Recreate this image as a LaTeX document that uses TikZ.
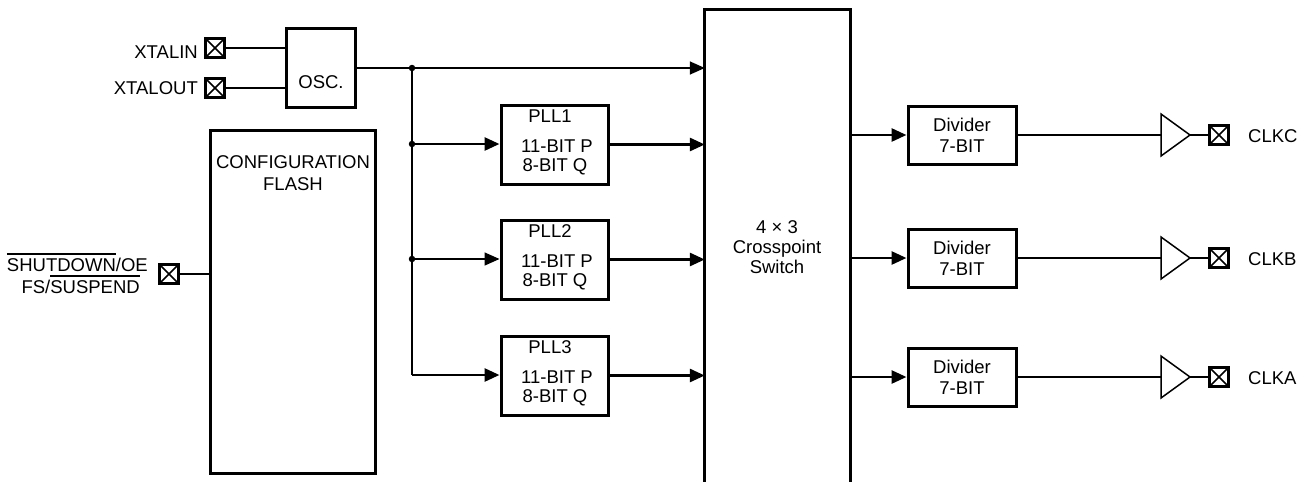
\documentclass[tikz,border=0pt]{standalone}
\usepackage{fontspec}
\setmainfont{Liberation Sans}
\usetikzlibrary{arrows.meta}
\newcommand\myovl[1]{\leavevmode\vbox{\hrule height 1.8pt\kern 3pt\hbox{#1}}}
\begin{document}
\begin{tikzpicture}[x=1pt,y=-1pt,
  font=\fontsize{18.5}{21}\selectfont,
  wire/.style={line width=2.8pt},
  thinwire/.style={line width=1.5pt},
  arr/.style={wire,-{Triangle[length=15pt,width=13pt]}},
  thinarr/.style={thinwire,-{Triangle[length=15pt,width=13pt]}},
  box/.style={draw,line width=3pt,inner sep=0,minimum width=#1},
  pin/.style={draw,line width=3.2pt,inner sep=0,minimum size=18.5pt,
    path picture={\draw[line width=1.6pt] (path picture bounding box.north west)--(path picture bounding box.south east)
      (path picture bounding box.north east)--(path picture bounding box.south west);}},
  txt/.style={inner sep=0,anchor=base},
  rtxt/.style={inner sep=0,anchor=base east},
  ltxt/.style={inner sep=0,anchor=base west},
  jdot/.style={circle,fill,inner sep=0,minimum size=6.5pt},
  buf/.style={line width=1.5pt},
]
\useasboundingbox (0,0) rectangle (1307,482);

% crystal pins and oscillator
\node[pin] (xin) at (215,48) {};
\node[pin] (xout) at (215,88) {};
\node[rtxt] (xinl) at (198,58) {XTALIN};
\node[rtxt] (xoutl) at (198,94) {XTALOUT};
\node[box=69pt,minimum height=79pt] (osc) at (320.5,67.5) {};
\node[txt] (osct) at (321,88) {OSC.};
\draw[wire] (xin.east) -- (osc.west |- xin);
\draw[wire] (xout.east) -- (osc.west |- xout);

% crosspoint switch (open at the bottom)
\node[inner sep=0,minimum width=145pt,minimum height=474pt] (xp) at (777.5,247) {};
\draw[line width=3pt] (xp.south west) -- (xp.north west) -- (xp.north east) -- (xp.south east);
\node[txt] (xp1) at (777,233) {4 × 3};
\node[txt] (xp2) at (777,253) {Crosspoint};
\node[txt] (xp3) at (777,273) {Switch};

% distribution from oscillator
\coordinate (j0) at (412,68);
\coordinate (j1) at (412,144);
\coordinate (j2) at (412,259);
\coordinate (j3) at (412,375);
\draw[thinwire] (osc.east |- j0) -- (j0);
\draw[thinarr] (j0) -- (xp.west |- j0);
\draw[wire] (j0) -- (j3);
\node[jdot] (d0) at (j0) {};
\node[jdot] (d1) at (j1) {};
\node[jdot] (d2) at (j2) {};

% PLLs
\foreach \i/\y in {1/144.5, 2/259.5, 3/375.5} {
  \node[box=107pt,minimum height=79pt] (pll\i) at (554.5,\y) {};
  \node[txt] (pllt\i) at (550,\y-22.5) {PLL\i};
  \node[txt] (pllp\i) at (557,\y+7.5) {11-BIT P};
  \node[txt] (pllq\i) at (555,\y+26.5) {8-BIT Q};
  \draw[arr] (pll\i.east) -- (xp.west |- pll\i.east);
}
\draw[arr] (j1) -- (pll1.west |- j1);
\draw[thinarr] (j2) -- (pll2.west |- j2);
\draw[arr] (j3) -- (pll3.west |- j3);

% outputs
\foreach \n/\y in {C/135, B/258, A/377} {
  \node[box=108pt,minimum height=58pt] (div\n) at (962,\y) {};
  \node[txt] (divt\n) at (962,\y-4) {Divider};
  \node[txt] (divb\n) at (962,\y+17) {7-BIT};
  \draw[arr] (xp.east |- div\n) -- (div\n.west);
  \coordinate (bin\n) at (1161,\y);
  \coordinate (bout\n) at (1190,\y);
  \draw[buf,line join=miter] (1161,\y-21) -- (bout\n) -- (1161,\y+21) -- cycle;
  \node[pin] (out\n) at (1219,\y) {};
  \node[ltxt] (clk\n) at (1248,\y+7) {CLK\n};
  \draw[wire] (div\n.east) -- (bin\n);
  \draw[wire] (bout\n) -- (out\n.west);
}

% configuration flash and control pin
\node[box=165pt,minimum height=343pt] (flash) at (292.5,301.5) {};
\node[txt] (fl1) at (293,168) {CONFIGURATION};
\node[txt] (fl2) at (293,190) {FLASH};
\node[pin] (sd) at (169,274) {};
\node[rtxt] (sdl1) at (148,271) {\myovl{SHUTDOWN}/OE};
\node[rtxt] (sdl2) at (140,293) {FS/\myovl{SUSPEND}};
\draw[wire] (sd.east) -- (flash.west |- sd);
\end{tikzpicture}
\end{document}
